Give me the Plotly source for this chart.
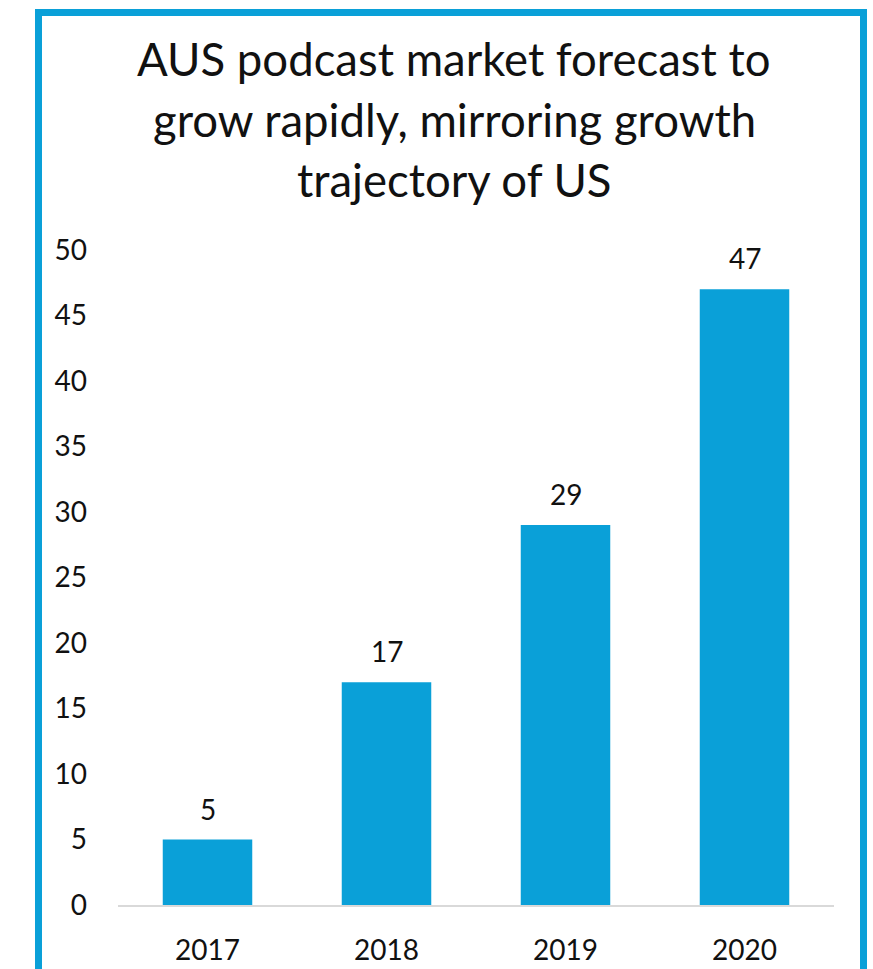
import plotly.graph_objects as go

# Podcast market forecast (AUD millions)
years = ["2017", "2018", "2019", "2020"]
values = [5, 17, 29, 47]
y_ticks = [0, 5, 10, 15, 20, 25, 30, 35, 40, 45, 50]
title_lines = [
    "AUS podcast market forecast to",
    "grow rapidly, mirroring growth",
    "trajectory of US",
]

W, H = 873, 969
ML, MR, MT, MB = 118, 39, 250, 64
PW, PH = W - ML - MR, H - MT - MB

BLUE = "#0AA0D8"
FONT = "Lato"


def px_x(px):
    return (px - ML) / PW


def px_y(py):
    return (H - MB - py) / PH


fig = go.Figure(
    go.Bar(
        x=years,
        y=values,
        marker=dict(color=BLUE, line=dict(width=0)),
        hoverinfo="skip",
    )
)

annotations = []
# Value labels above each bar (category index positions)
for i, v in enumerate(values):
    annotations.append(
        dict(
            x=i, y=v, xref="x", yref="y",
            text=str(v), showarrow=False,
            yanchor="bottom", yshift=12,
            font=dict(family=FONT, size=28, color="#111111"),
        )
    )

# Title, one annotation per line
title_centers = [59, 119, 179]
for line, cy in zip(title_lines, title_centers):
    annotations.append(
        dict(
            x=px_x(454), y=px_y(cy), xref="paper", yref="paper",
            text=line, showarrow=False,
            xanchor="center", yanchor="middle",
            font=dict(family=FONT, size=45.5, color="#111111"),
        )
    )

fig.update_layout(
    width=W,
    height=H,
    margin=dict(l=ML, r=MR, t=MT, b=MB, pad=0),
    paper_bgcolor="white",
    plot_bgcolor="white",
    showlegend=False,
    bargap=0.5,
    annotations=annotations,
    shapes=[
        dict(
            type="rect", xref="paper", yref="paper",
            x0=px_x(38.5), x1=px_x(863.5),
            y0=px_y(1020), y1=px_y(12.5),
            line=dict(color=BLUE, width=7),
            fillcolor="rgba(0,0,0,0)",
            layer="above",
        )
    ],
    xaxis=dict(
        type="category",
        categoryorder="array",
        categoryarray=years,
        range=[-0.5, len(years) - 0.5],
        automargin=False,
        showgrid=False,
        showline=True,
        linecolor="#D9D9D9",
        linewidth=2,
        ticks="",
        ticklabelstandoff=19,
        tickfont=dict(family=FONT, size=28, color="#111111"),
        fixedrange=True,
    ),
    yaxis=dict(
        range=[0, 50],
        tickvals=y_ticks,
        automargin=False,
        showgrid=False,
        zeroline=False,
        showline=False,
        ticks="",
        ticklabelstandoff=30,
        tickfont=dict(family=FONT, size=28, color="#111111"),
        fixedrange=True,
    ),
)

fig.write_html("out.html", config={"displayModeBar": False})
